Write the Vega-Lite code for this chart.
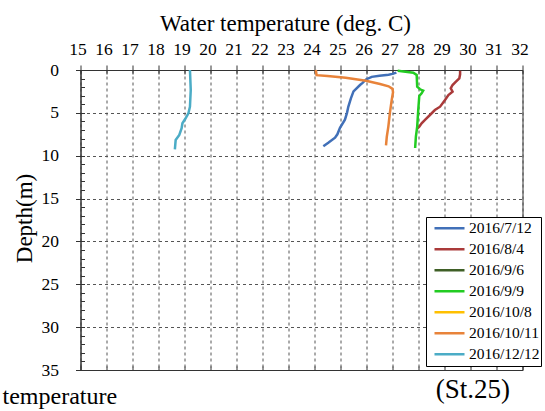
{
  "$schema": "https://vega.github.io/schema/vega-lite/v6.json",
  "width": 442,
  "height": 300,
  "autosize": {"type": "none"},
  "padding": {"left": 80.5, "top": 70, "right": 22.5, "bottom": 41},
  "config": {
    "font": "Liberation Serif",
    "view": {"stroke": "#333", "strokeWidth": 1},
    "axis": {
      "labelFont": "Liberation Serif",
      "titleFont": "Liberation Serif",
      "labelColor": "#000",
      "titleColor": "#000",
      "titleFontWeight": "normal",
      "domainColor": "#333",
      "tickColor": "#333",
      "gridColor": "#555",
      "gridDash": [3, 3],
      "gridWidth": 1,
      "labelFlush": false,
      "labelOverlap": false
    }
  },
  "layer": [
    {
      "data": {
        "values": [
          {"date": "2016/7/12", "d": 0.3, "t": 27.15},
          {"date": "2016/7/12", "d": 0.45, "t": 27.0},
          {"date": "2016/7/12", "d": 0.55, "t": 26.85},
          {"date": "2016/7/12", "d": 0.66, "t": 26.5},
          {"date": "2016/7/12", "d": 0.8, "t": 26.2},
          {"date": "2016/7/12", "d": 1.1, "t": 25.98},
          {"date": "2016/7/12", "d": 1.5, "t": 25.85},
          {"date": "2016/7/12", "d": 1.75, "t": 25.75},
          {"date": "2016/7/12", "d": 2.5, "t": 25.5},
          {"date": "2016/7/12", "d": 3.3, "t": 25.4},
          {"date": "2016/7/12", "d": 4.3, "t": 25.3},
          {"date": "2016/7/12", "d": 5.0, "t": 25.25},
          {"date": "2016/7/12", "d": 5.8, "t": 25.17},
          {"date": "2016/7/12", "d": 6.75, "t": 24.98},
          {"date": "2016/7/12", "d": 7.5, "t": 24.88},
          {"date": "2016/7/12", "d": 7.9, "t": 24.79},
          {"date": "2016/7/12", "d": 8.5, "t": 24.53},
          {"date": "2016/7/12", "d": 8.9, "t": 24.34},
          {"date": "2016/8/4", "d": 0.1, "t": 29.6},
          {"date": "2016/8/4", "d": 0.5, "t": 29.6},
          {"date": "2016/8/4", "d": 0.97, "t": 29.57},
          {"date": "2016/8/4", "d": 1.36, "t": 29.44},
          {"date": "2016/8/4", "d": 1.75, "t": 29.31},
          {"date": "2016/8/4", "d": 2.14, "t": 29.24},
          {"date": "2016/8/4", "d": 2.53, "t": 29.31},
          {"date": "2016/8/4", "d": 2.92, "t": 29.15},
          {"date": "2016/8/4", "d": 3.5, "t": 29.02},
          {"date": "2016/8/4", "d": 4.28, "t": 28.83},
          {"date": "2016/8/4", "d": 4.67, "t": 28.63},
          {"date": "2016/8/4", "d": 5.25, "t": 28.44},
          {"date": "2016/8/4", "d": 5.83, "t": 28.25},
          {"date": "2016/8/4", "d": 6.22, "t": 28.12},
          {"date": "2016/8/4", "d": 6.61, "t": 28.03},
          {"date": "2016/8/4", "d": 6.85, "t": 27.95},
          {"date": "2016/9/9", "d": 0.1, "t": 27.2},
          {"date": "2016/9/9", "d": 0.2, "t": 27.5},
          {"date": "2016/9/9", "d": 0.31, "t": 27.8},
          {"date": "2016/9/9", "d": 0.58, "t": 27.93},
          {"date": "2016/9/9", "d": 1.95, "t": 27.95},
          {"date": "2016/9/9", "d": 2.25, "t": 28.06},
          {"date": "2016/9/9", "d": 2.4, "t": 28.18},
          {"date": "2016/9/9", "d": 2.72, "t": 28.12},
          {"date": "2016/9/9", "d": 3.03, "t": 28.03},
          {"date": "2016/9/9", "d": 4.67, "t": 27.99},
          {"date": "2016/9/9", "d": 6.6, "t": 27.95},
          {"date": "2016/9/9", "d": 7.78, "t": 27.9},
          {"date": "2016/9/9", "d": 9.1, "t": 27.87},
          {"date": "2016/10/11", "d": 0.0, "t": 24.05},
          {"date": "2016/10/11", "d": 0.6, "t": 24.08},
          {"date": "2016/10/11", "d": 0.7, "t": 24.5},
          {"date": "2016/10/11", "d": 0.9, "t": 25.2},
          {"date": "2016/10/11", "d": 1.25, "t": 25.98},
          {"date": "2016/10/11", "d": 1.63, "t": 26.52},
          {"date": "2016/10/11", "d": 1.9, "t": 26.85},
          {"date": "2016/10/11", "d": 2.2, "t": 27.0},
          {"date": "2016/10/11", "d": 2.6, "t": 27.02},
          {"date": "2016/10/11", "d": 3.5, "t": 26.97},
          {"date": "2016/10/11", "d": 5.0, "t": 26.9},
          {"date": "2016/10/11", "d": 6.6, "t": 26.84},
          {"date": "2016/10/11", "d": 7.8, "t": 26.78},
          {"date": "2016/10/11", "d": 8.8, "t": 26.75},
          {"date": "2016/12/12", "d": 0.0, "t": 19.21},
          {"date": "2016/12/12", "d": 2.33, "t": 19.24},
          {"date": "2016/12/12", "d": 4.28, "t": 19.21},
          {"date": "2016/12/12", "d": 5.05, "t": 19.15},
          {"date": "2016/12/12", "d": 5.75, "t": 19.02},
          {"date": "2016/12/12", "d": 6.22, "t": 18.92},
          {"date": "2016/12/12", "d": 6.8, "t": 18.89},
          {"date": "2016/12/12", "d": 7.58, "t": 18.8},
          {"date": "2016/12/12", "d": 8.17, "t": 18.66},
          {"date": "2016/12/12", "d": 9.25, "t": 18.63}
        ]
      },
      "mark": {"type": "line", "strokeWidth": 2.5},
      "encoding": {
        "x": {
          "field": "t", "type": "quantitative",
          "scale": {"domain": [15, 32], "nice": false, "zero": false},
          "axis": {
            "orient": "top",
            "values": [15,16,17,18,19,20,21,22,23,24,25,26,27,28,29,30,31,32],
            "format": "d",
            "labelFont": "Liberation Serif",
            "labelFontSize": 17.5,
            "labelPadding": 7,
            "labelOffset": -3,
            "tickSize": 5,
            "grid": true,
            "title": "Water temperature (deg. C)",
            "titleFont": "Liberation Serif",
            "titleFontSize": 23,
            "titleX": 204.5,
            "titleY": -39.5,
            "titleBaseline": "alphabetic",
            "titleAlign": "center"
          }
        },
        "y": {
          "field": "d", "type": "quantitative",
          "scale": {"domain": [0, 35], "reverse": true, "nice": false, "zero": false},
          "axis": {
            "orient": "left",
            "values": [0,5,10,15,20,25,30,35],
            "labelFont": "Liberation Serif",
            "labelFontSize": 17.5,
            "labelPadding": 17,
            "tickSize": 5,
            "grid": true,
            "title": "Depth(m)",
            "titleFont": "Liberation Serif",
            "titleFontSize": 23,
            "titleAngle": -90,
            "titleX": -49,
            "titleY": 148,
            "titleBaseline": "alphabetic",
            "titleAlign": "center"
          }
        },
        "color": {
          "field": "date", "type": "nominal",
          "scale": {
            "domain": ["2016/7/12","2016/8/4","2016/9/6","2016/9/9","2016/10/8","2016/10/11","2016/12/12"],
            "range": ["#4170B8","#AA3A3A","#3F5F26","#22CC22","#FFC000","#E8833A","#4BACC6"]
          },
          "legend": {
            "orient": "none",
            "legendX": 345.5,
            "legendY": 147,
            "title": null,
            "symbolType": "stroke",
            "symbolSize": 900,
            "symbolStrokeWidth": 2.5,
            "symbolOffset": 6,
            "labelFontSize": 15.5,
            "labelFont": "Liberation Serif",
            "labelColor": "#000",
            "labelOffset": 3,
            "strokeColor": "#000",
            "fillColor": "#fff",
            "padding": 1,
            "rowPadding": 0,
            "clipHeight": 20.6
          }
        },
        "order": {"field": "d", "type": "quantitative"}
      }
    },
    {
      "data": {"values": [{"label": "(St.25)"}]},
      "mark": {"type": "text", "align": "right", "baseline": "alphabetic", "fontSize": 27, "font": "Liberation Serif", "color": "#000"},
      "encoding": {
        "x": {
          "datum": 31.52, "type": "quantitative",
          "scale": {"domain": [15, 32], "nice": false, "zero": false},
          "axis": {
            "orient": "bottom",
            "values": [15,16,17,18,19,20,21,22,23,24,25,26,27,28,29,30,31,32],
            "labels": false, "tickSize": -4, "grid": false, "title": null
          }
        },
        "y": {
          "datum": 38.27, "type": "quantitative",
          "scale": {"domain": [0, 35], "reverse": true, "nice": false, "zero": false},
          "axis": {
            "orient": "left",
            "values": [0,1,2,3,4,5,6,7,8,9,10,11,12,13,14,15,16,17,18,19,20,21,22,23,24,25,26,27,28,29,30,31,32,33,34,35],
            "labels": false, "tickSize": -4, "grid": false, "domain": false, "title": null
          }
        },
        "text": {"field": "label"}
      }
    },
    {
      "data": {"values": [{"label": "temperature"}]},
      "mark": {"type": "text", "align": "left", "baseline": "alphabetic", "fontSize": 24, "font": "Liberation Serif", "color": "#000"},
      "encoding": {
        "x": {
          "datum": 12.0, "type": "quantitative",
          "scale": {"domain": [15, 32], "nice": false, "zero": false},
          "axis": {
            "orient": "top",
            "values": [15,16,17,18,19,20,21,22,23,24,25,26,27,28,29,30,31,32],
            "labels": false, "tickSize": -4, "grid": false, "domain": false, "title": null
          }
        },
        "y": {
          "datum": 38.95, "type": "quantitative",
          "scale": {"domain": [0, 35], "reverse": true, "nice": false, "zero": false},
          "axis": null
        },
        "text": {"field": "label"}
      }
    }
  ],
  "resolve": {"axis": {"x": "independent", "y": "independent"}}
}
